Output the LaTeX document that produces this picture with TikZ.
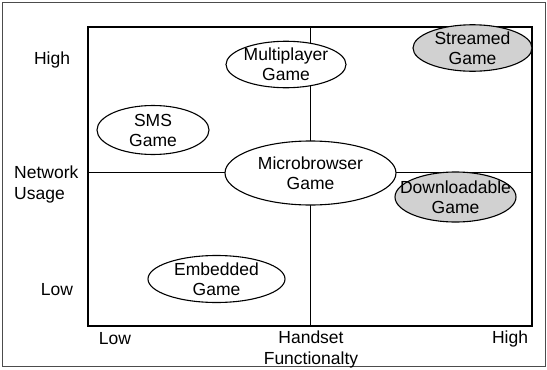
\documentclass[tikz,border=0pt]{standalone}
\usepackage{fontspec}
\setmainfont{Liberation Sans}
\usetikzlibrary{shapes.geometric}
\definecolor{stipple}{gray}{0.82}
\begin{document}
\begin{tikzpicture}[x=1pt,y=-1pt,
  lbl/.style={font=\fontsize{17.5}{21}\selectfont, inner sep=0pt, align=center},
  game/.style={ellipse, draw, line width=1.1pt, fill=white, inner sep=0pt,
    align=center, font=\fontsize{17.5}{20}\selectfont},
  shaded/.style={game, fill=stipple},
  grid/.style={line width=0.9pt},
  box/.style={line width=1.6pt}]
\useasboundingbox (0,0) rectangle (547,370);
% outer frame
\draw[line width=0.8pt, black!70] (2,2) rectangle (545.5,366.5);
% quadrant box and dividers
\coordinate (bl) at (88,326);
\coordinate (tr) at (532,27);
\coordinate (midT) at (310.5,27);
\coordinate (midB) at (310.5,326);
\coordinate (midL) at (88,172);
\coordinate (midR) at (532,172);
\draw[grid] (midT) -- (midB);
\draw[grid] (midL) -- (midR);
\draw[box] (bl) rectangle (tr);
% games
\node[game, minimum width=120pt, minimum height=45pt] (multi) at (286,64.5) {Multiplayer\\Game};
\node[shaded, inner xsep=-10pt, minimum width=119pt, minimum height=41pt] (stream) at (472.5,48) {Streamed\\Game};
\node[game, minimum width=112pt, minimum height=49pt] (sms) at (153,130) {SMS\\Game};
\node[game, minimum width=171pt, minimum height=64pt] (micro) at (310.5,173) {Microbrowser\\Game};
\node[shaded, inner xsep=-17pt, minimum width=121pt, minimum height=50pt] (down) at (455.5,197) {Downloadable\\Game};
\node[game, minimum width=137pt, minimum height=47pt] (embed) at (216.5,279) {Embedded\\Game};
% axis labels
\node[lbl] (yhigh) at (52,60) {High};
\node[lbl, align=left, anchor=west] (yname) at (14,184.5) {Network\\Usage};
\node[lbl] (ylow) at (57,290) {Low};
\node[lbl] (xlow) at (115,339) {Low};
\node[lbl] (xname) at (311,349.5) {Handset\\Functionalty};
\node[lbl] (xhigh) at (510,339) {High};
\end{tikzpicture}
\end{document}
